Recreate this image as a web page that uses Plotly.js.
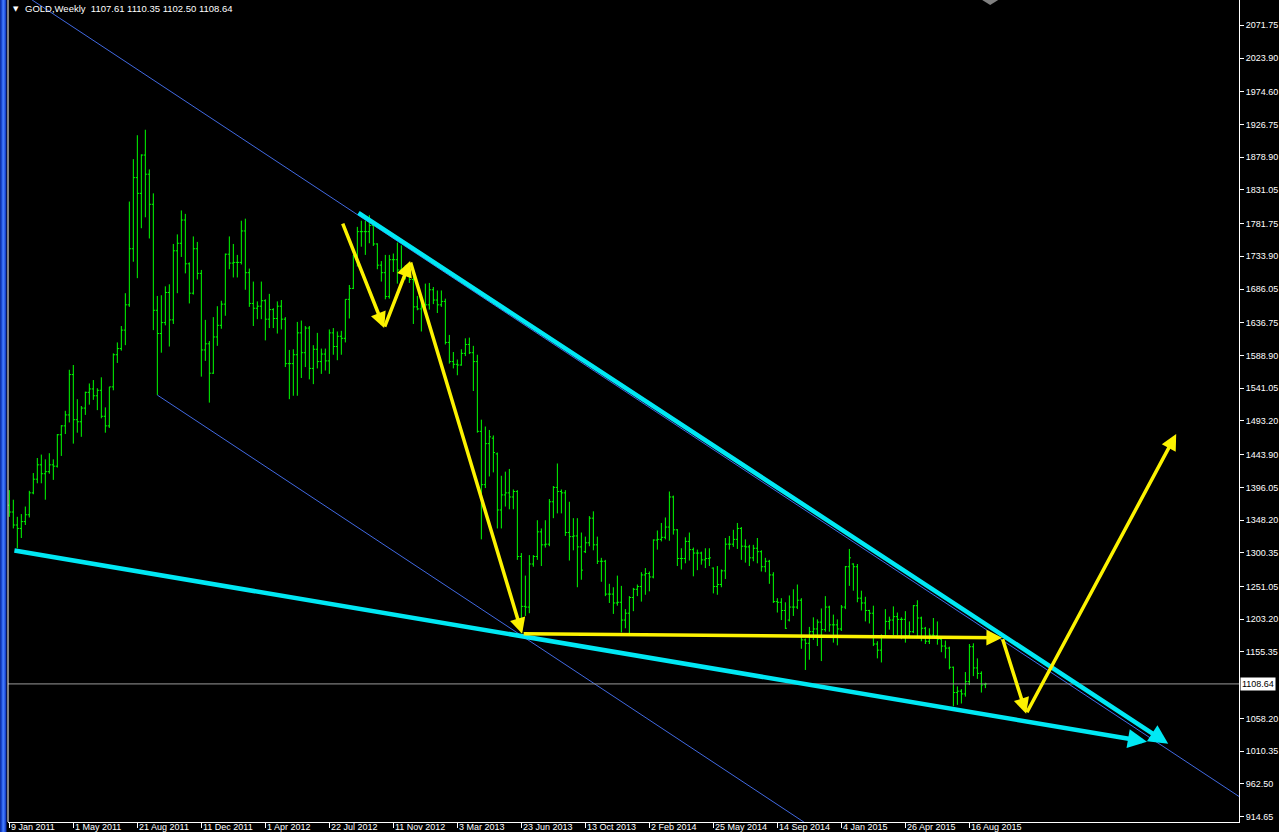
<!DOCTYPE html>
<html>
<head>
<meta charset="utf-8">
<script src="https://cdn.plot.ly/plotly-3.0.1.min.js"></script>
<style>
html,body{margin:0;padding:0;background:#000;overflow:hidden;}
#chart{width:1279px;height:832px;position:absolute;left:0;top:0;}
#frame{position:absolute;left:0;top:0;width:7px;height:832px;z-index:5;
background:linear-gradient(to right,#0a2a9a 0px,#1e50e0 2px,#4a84ff 3px,#2456e6 5px,#0b2fb5 6px,#000 7px);}
</style>
</head>
<body>
<div id="frame"></div>
<div id="chart"></div>
<script>
// Weekly GOLD bars, index 0 = week of 9 Jan 2011
const opens = [
1370,1360,1341,1336,1346,1356,1388,1408,1429,1416,
1419,1429,1427,1473,1486,1502,1561,1495,1492,1512,
1535,1540,1530,1538,1500,1486,1543,1590,1599,1626,
1663,1745,1849,1826,1882,1854,1810,1655,1621,1637,
1681,1641,1742,1753,1787,1723,1680,1745,1709,1597,
1606,1563,1616,1633,1664,1737,1724,1725,1725,1771,
1710,1665,1658,1661,1669,1642,1656,1643,1661,1642,
1577,1577,1590,1622,1593,1629,1570,1598,1580,1591,
1581,1622,1602,1617,1614,1671,1687,1735,1770,1770,
1770,1779,1752,1721,1710,1675,1729,1729,1714,1711,
1708,1700,1660,1657,1660,1663,1685,1670,1663,1668,
1608,1580,1576,1575,1592,1605,1593,1580,1478,1400,
1460,1468,1445,1363,1385,1388,1382,1390,1295,1222,
1221,1284,1295,1331,1312,1313,1375,1396,1390,1388,
1330,1324,1325,1309,1302,1315,1351,1312,1288,1288,
1240,1240,1227,1228,1202,1212,1235,1247,1251,1268,
1270,1265,1319,1320,1323,1338,1382,1334,1292,1292,
1317,1305,1300,1300,1290,1292,1278,1251,1254,1274,
1313,1313,1320,1336,1310,1309,1293,1307,1302,1280,
1288,1268,1229,1228,1216,1202,1221,1221,1231,1173,
1168,1185,1189,1199,1188,1221,1195,1195,1189,1221,
1280,1284,1280,1234,1227,1216,1212,1167,1158,1179,
1200,1202,1207,1203,1203,1179,1185,1223,1205,1190,
1171,1180,1179,1174,1164,1161,1133,1096,1098,1094,
1112,1163,1132,1124,1107.61];
const highs = [
1392,1378,1353,1357,1368,1391,1417,1439,1444,1437,
1446,1437,1474,1487,1508,1568,1575,1525,1515,1536,
1548,1553,1541,1557,1513,1543,1592,1608,1632,1680,
1814,1876,1911,1883,1919,1861,1826,1676,1677,1690,
1693,1752,1766,1801,1796,1725,1763,1755,1714,1641,
1610,1645,1661,1669,1738,1763,1752,1736,1786,1789,
1716,1697,1668,1697,1671,1679,1658,1668,1670,1645,
1597,1598,1638,1640,1632,1632,1604,1622,1599,1599,
1627,1629,1624,1625,1671,1692,1736,1777,1786,1786,
1794,1781,1753,1727,1736,1736,1738,1754,1750,1721,
1725,1716,1676,1675,1694,1695,1689,1684,1684,1672,
1619,1594,1583,1598,1614,1615,1603,1590,1495,1485,
1480,1472,1447,1413,1419,1423,1393,1392,1300,1267,
1297,1297,1348,1336,1348,1379,1398,1431,1393,1392,
1375,1351,1351,1330,1324,1354,1361,1324,1293,1290,
1255,1250,1267,1252,1218,1237,1249,1254,1272,1278,
1273,1320,1333,1344,1352,1390,1384,1335,1307,1323,
1330,1308,1305,1302,1307,1307,1279,1281,1276,1322,
1325,1334,1344,1338,1320,1312,1312,1322,1304,1293,
1290,1272,1234,1234,1228,1238,1247,1254,1234,1175,
1192,1206,1203,1219,1237,1223,1210,1203,1224,1281,
1306,1285,1284,1245,1236,1217,1223,1171,1181,1218,
1207,1222,1213,1206,1215,1200,1224,1231,1207,1192,
1190,1205,1200,1176,1172,1163,1134,1105,1101,1126,
1167,1168,1146,1127,1110.35];
const lows = [
1353,1336,1307,1322,1341,1352,1386,1402,1402,1378,
1416,1407,1425,1442,1474,1491,1460,1476,1470,1502,
1517,1524,1509,1497,1476,1483,1538,1578,1596,1604,
1660,1726,1702,1775,1791,1760,1626,1531,1593,1633,
1602,1635,1680,1733,1709,1665,1678,1700,1558,1581,
1520,1562,1603,1628,1647,1715,1703,1703,1722,1685,
1660,1632,1642,1642,1611,1629,1629,1621,1627,1572,
1525,1530,1530,1556,1572,1554,1547,1570,1562,1567,
1562,1590,1582,1590,1608,1643,1686,1719,1748,1736,
1753,1749,1715,1697,1671,1672,1711,1694,1708,1700,
1695,1635,1655,1624,1659,1656,1664,1651,1660,1605,
1577,1570,1560,1574,1588,1591,1537,1476,1320,1395,
1412,1418,1336,1336,1368,1364,1364,1290,1183,1208,
1212,1280,1290,1281,1308,1310,1351,1358,1358,1325,
1289,1304,1250,1261,1300,1310,1304,1284,1258,1237,
1227,1211,1223,1184,1190,1180,1215,1237,1229,1239,
1244,1263,1305,1317,1320,1318,1327,1281,1276,1285,
1289,1266,1275,1283,1278,1281,1241,1239,1250,1262,
1305,1309,1306,1290,1286,1281,1288,1285,1273,1272,
1255,1227,1213,1202,1189,1200,1208,1218,1160,1129,
1144,1173,1164,1142,1185,1185,1169,1165,1186,1218,
1252,1245,1228,1216,1200,1197,1164,1146,1140,1177,
1188,1180,1180,1174,1169,1176,1183,1178,1171,1167,
1167,1176,1166,1155,1146,1130,1076,1078,1080,1090,
1107,1120,1116,1096,1102.50];
const closes = [
1360,1341,1336,1346,1356,1388,1408,1429,1416,1419,
1429,1427,1473,1486,1502,1561,1495,1492,1512,1535,
1540,1530,1538,1500,1486,1543,1590,1599,1626,1663,
1745,1849,1826,1882,1854,1810,1655,1621,1637,1681,
1641,1742,1753,1787,1723,1680,1745,1709,1597,1606,
1563,1616,1633,1664,1737,1724,1725,1725,1771,1710,
1665,1658,1661,1669,1642,1656,1643,1661,1642,1577,
1577,1590,1622,1593,1629,1570,1598,1580,1591,1581,
1622,1602,1617,1614,1671,1687,1735,1770,1770,1770,
1779,1752,1721,1710,1675,1729,1729,1714,1711,1708,
1700,1660,1657,1660,1663,1685,1670,1663,1668,1608,
1580,1576,1575,1592,1605,1593,1580,1478,1400,1460,
1470,1447,1363,1385,1388,1382,1390,1295,1222,1221,
1284,1295,1331,1312,1313,1375,1396,1390,1388,1330,
1324,1325,1309,1275,1315,1351,1312,1288,1288,1240,
1240,1227,1228,1202,1212,1235,1247,1251,1268,1270,
1265,1319,1320,1323,1338,1382,1334,1292,1292,1317,
1305,1300,1300,1290,1292,1293,1251,1254,1274,1313,
1313,1320,1336,1310,1309,1293,1307,1302,1280,1288,
1268,1229,1228,1216,1190,1221,1221,1231,1173,1168,
1185,1189,1199,1188,1221,1195,1195,1189,1221,1280,
1293,1280,1234,1227,1216,1212,1167,1158,1179,1200,
1202,1207,1203,1203,1179,1185,1223,1205,1190,1171,
1180,1179,1174,1164,1161,1133,1096,1098,1094,1112,
1163,1132,1124,1107,1108.64];

// Time-axis labels (bar index of each label)
const xTickIdx = [0,16,32,48,64,80,96,112,128,144,160,176,192,208,224,240];
const xTickText = ['9 Jan 2011','1 May 2011','21 Aug 2011','11 Dec 2011','1 Apr 2012','22 Jul 2012',
  '11 Nov 2012','3 Mar 2013','23 Jun 2013','13 Oct 2013','2 Feb 2014','25 May 2014',
  '14 Sep 2014','4 Jan 2015','26 Apr 2015','16 Aug 2015'];
// Price scale labels
const yTickVals = [2071.75,2023.90,1974.60,1926.75,1878.90,1831.05,1781.75,1733.90,1686.05,1636.75,
  1588.90,1541.05,1493.20,1443.90,1396.05,1348.20,1300.35,1251.05,1203.20,1155.35,
  1058.20,1010.35,962.50,914.65];
const lastPrice = 1108.64;
const headerText = 'GOLD,Weekly\u00a0\u00a01107.61 1110.35 1102.50 1108.64';

// Drawn objects (bar index, price)
const blueUpperX = [5.7, 310];   const blueUpperY = [2108.75, 934];
const blueLowerX = [37, 220];    const blueLowerY = [1531, 824];
const cyanUpperX = [86.9, 289.7]; const cyanUpperY = [1799, 1021];
const cyanLowerX = [0.9, 284.4];  const cyanLowerY = [1304, 1024];
const yellowX = [83.2, 93.7, 100.2, 128.2, 248.2, 254.2, 291.7];
const yellowY = [1784, 1629, 1727, 1182, 1176, 1065, 1474];

const idx = opens.map((_, i) => i);
const GREEN = '#00ff00';
const FAM = 'Liberation Sans, Arial, sans-serif';
const YFONT = {family:FAM, size:9, color:'#ffffff'};
const XFONT = {family:FAM, size:9, color:'#ffffff'};

const traces = [
  {type:'scatter', mode:'lines', x:blueUpperX, y:blueUpperY, line:{color:'#4169e1', width:1}, hoverinfo:'skip'},
  {type:'scatter', mode:'lines', x:blueLowerX, y:blueLowerY, line:{color:'#4169e1', width:1}, hoverinfo:'skip'},
  {type:'ohlc', x:idx, open:opens, high:highs, low:lows, close:closes, tickwidth:0.4,
   increasing:{line:{color:GREEN, width:1}}, decreasing:{line:{color:GREEN, width:1}}, hoverinfo:'skip'}
];

const annotations = [];
function arrow(x0, y0, x1, y1, color, w, size) {
  annotations.push({x:x1, y:y1, ax:x0, ay:y0, xref:'x', yref:'y', axref:'x', ayref:'y',
    text:'', showarrow:true, arrowhead:2, arrowsize:size, arrowwidth:w, arrowcolor:color, standoff:0});
}
arrow(cyanUpperX[0], cyanUpperY[0], cyanUpperX[1], cyanUpperY[1], '#00e8f4', 4.5, 0.85);
arrow(cyanLowerX[0], cyanLowerY[0], cyanLowerX[1], cyanLowerY[1], '#00e8f4', 4.5, 0.85);
for (let k = 0; k < yellowX.length - 1; k++) {
  arrow(yellowX[k], yellowY[k], yellowX[k+1], yellowY[k+1], '#fcf200', 3.5, 0.9);
}
xTickIdx.forEach((v, k) => {
  annotations.push({x:v, y:0, xref:'x', yref:'paper', xanchor:'left', yanchor:'top', xshift:1, yshift:1,
    text:xTickText[k], showarrow:false, font:XFONT, borderpad:0});
});
annotations.push({x:0, y:1, xref:'paper', yref:'paper', xanchor:'left', yanchor:'top', xshift:15, yshift:-1,
  text:headerText, showarrow:false, font:{family:FAM, size:9.5, color:'#ffffff'}});
annotations.push({x:0, y:1, xref:'paper', yref:'paper', xanchor:'left', yanchor:'top', xshift:3, yshift:-3,
  text:'\u25BC', showarrow:false, font:{family:'DejaVu Sans', size:7, color:'#ffffff'}});
annotations.push({x:1, y:lastPrice, xref:'paper', yref:'y', xanchor:'left', yanchor:'middle', xshift:1,
  text:lastPrice.toFixed(2), showarrow:false, bgcolor:'#ffffff', borderpad:1,
  font:{family:FAM, size:9, color:'#000000'}});

const layout = {
  width:1279, height:832,
  margin:{l:8, r:40, t:0, b:10, pad:0},
  paper_bgcolor:'#000000', plot_bgcolor:'#000000',
  showlegend:false,
  xaxis:{range:[-0.33, 307.4], showgrid:false, zeroline:false, showline:true, linecolor:'#ffffff', linewidth:1,
    tickmode:'array', tickvals:xTickIdx, ticks:'outside', ticklen:5, tickcolor:'#ffffff', showticklabels:false,
    rangeslider:{visible:false}, fixedrange:true},
  yaxis:{range:[906.7, 2108.75], side:'right', showgrid:false, zeroline:false, showline:true, linecolor:'#ffffff',
    linewidth:1, tickmode:'array', tickvals:yTickVals, tickformat:'.2f', ticks:'outside', ticklen:4,
    tickcolor:'#ffffff', tickfont:YFONT, fixedrange:true},
  shapes:[
    {type:'line', xref:'paper', yref:'y', x0:0, x1:1, y0:lastPrice, y1:lastPrice, line:{color:'#9a9a9a', width:1}},
    {type:'line', xref:'paper', yref:'paper', x0:0, x1:0, y0:0, y1:1, line:{color:'#ffffff', width:1}},
    {type:'path', xref:'x', yref:'paper', path:'M 243.2 1 L 247.2 1 L 245.2 0.994 Z', fillcolor:'#808080', line:{width:0}}
  ],
  annotations:annotations
};

Plotly.newPlot('chart', traces, layout, {displayModeBar:false, staticPlot:true});
</script>
</body>
</html>
